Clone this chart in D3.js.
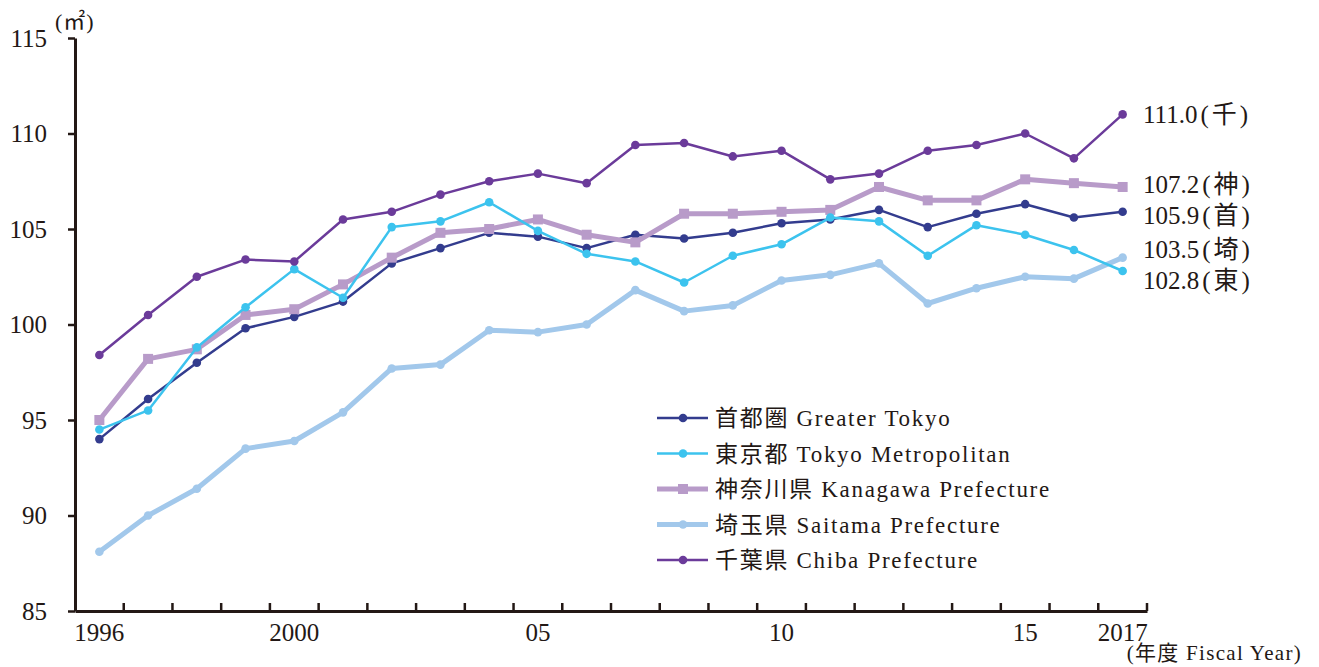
<!DOCTYPE html>
<html>
<head>
<meta charset="utf-8">
<script src="https://cdn.jsdelivr.net/npm/d3@7"></script>
<style>
  html, body { margin: 0; padding: 0; background: #fff; }
  svg text { font-family: "Liberation Serif", "Noto Sans CJK JP", serif; fill: #231815; }
</style>
</head>
<body>
<svg id="chart" width="1319" height="667"></svg>
<script>
// ---- data ----
const years = [1996,1997,1998,1999,2000,2001,2002,2003,2004,2005,2006,2007,2008,2009,2010,2011,2012,2013,2014,2015,2016,2017];
const tickYears  = [1996, 2000, 2005, 2010, 2015, 2017];
const tickLabels = ["1996", "2000", "05", "10", "15", "2017"];
const yTicks = [85, 90, 95, 100, 105, 110, 115];

const greaterTokyo = [94.0,96.1,98.0,99.8,100.4,101.2,103.2,104.0,104.8,104.6,104.0,104.7,104.5,104.8,105.3,105.5,106.0,105.1,105.8,106.3,105.6,105.9];
const tokyoMetro   = [94.5,95.5,98.8,100.9,102.9,101.4,105.1,105.4,106.4,104.9,103.7,103.3,102.2,103.6,104.2,105.6,105.4,103.6,105.2,104.7,103.9,102.8];
const kanagawa     = [95.0,98.2,98.7,100.5,100.8,102.1,103.5,104.8,105.0,105.5,104.7,104.3,105.8,105.8,105.9,106.0,107.2,106.5,106.5,107.6,107.4,107.2];
const saitama      = [88.1,90.0,91.4,93.5,93.9,95.4,97.7,97.9,99.7,99.6,100.0,101.8,100.7,101.0,102.3,102.6,103.2,101.1,101.9,102.5,102.4,103.5];
const chiba        = [98.4,100.5,102.5,103.4,103.3,105.5,105.9,106.8,107.5,107.9,107.4,109.4,109.5,108.8,109.1,107.6,107.9,109.1,109.4,110.0,108.7,111.0];

const seriesNames  = ["首都圏 Greater Tokyo", "東京都 Tokyo Metropolitan", "神奈川県 Kanagawa Prefecture", "埼玉県 Saitama Prefecture", "千葉県 Chiba Prefecture"];
const endTags      = ["首", "東", "神", "埼", "千"];
const seriesValues = [greaterTokyo, tokyoMetro, kanagawa, saitama, chiba];

// ---- styles ----
const colors  = ["#333c8e", "#3cc3ee", "#b89bc9", "#a2c8eb", "#6b3b9a"];
const widths  = [2.5, 2.5, 5, 5, 2.5];
const markers = ["circle", "circle", "square", "circle", "circle"];
const drawOrder = [3, 0, 2, 1, 4];

const svg = d3.select("#chart");
const mLeft = 75, mRight = 1147, mTop = 38, mBottom = 611;

const x = d3.scaleBand().domain(years).range([mLeft, mRight]).padding(0);
const y = d3.scaleLinear().domain([85, 115]).range([mBottom, mTop]);
const cx = d => x(d) + x.bandwidth() / 2;

const axisColor = "#231815";

// Y axis
const yAxis = svg.append("g")
  .attr("transform", `translate(${mLeft},0)`)
  .call(d3.axisLeft(y).tickValues(yTicks).tickSize(7).tickSizeOuter(0).tickPadding(21));
yAxis.select(".domain").attr("stroke", axisColor).attr("stroke-width", 3);
yAxis.selectAll(".tick line").attr("stroke", axisColor).attr("stroke-width", 2.5);
yAxis.selectAll(".tick text").attr("font-size", 25).attr("fill", axisColor)
  .style("font-family", "'Liberation Serif', serif");

// X axis
const xAxis = svg.append("g")
  .attr("transform", `translate(0,${mBottom})`)
  .call(d3.axisBottom(x).tickValues(tickYears).tickSize(0).tickSizeOuter(0).tickPadding(12)
        .tickFormat(d => tickLabels[tickYears.indexOf(d)]));
xAxis.select(".domain").attr("stroke", axisColor).attr("stroke-width", 3);
xAxis.selectAll(".tick text").attr("font-size", 25).attr("fill", axisColor)
  .style("font-family", "'Liberation Serif', serif");
// boundary ticks pointing up
const boundaries = years.slice(1).map(d => x(d)).concat([mRight]);
svg.append("g").selectAll("line").data(boundaries).join("line")
  .attr("x1", d => d).attr("x2", d => d)
  .attr("y1", mBottom).attr("y2", mBottom - 8)
  .attr("stroke", axisColor).attr("stroke-width", 2.5);

// units
svg.append("text").attr("x", 55).attr("y", 29).attr("font-size", 22)
  .attr("letter-spacing", 1).text("(㎡)");
svg.append("text").attr("x", 1302).attr("y", 660).attr("text-anchor", "end")
  .attr("font-size", 21).attr("letter-spacing", 1.3).text("(年度 Fiscal Year)");

// lines
const line = d3.line().x((d, i) => cx(years[i])).y(d => y(d));
drawOrder.forEach(k => {
  const g = svg.append("g");
  g.append("path").datum(seriesValues[k])
    .attr("fill", "none").attr("stroke", colors[k]).attr("stroke-width", widths[k])
    .attr("stroke-linejoin", "round").attr("d", line);
  if (markers[k] === "square") {
    g.selectAll("rect").data(seriesValues[k]).join("rect")
      .attr("x", (d, i) => cx(years[i]) - 5).attr("y", d => y(d) - 5)
      .attr("width", 10).attr("height", 10).attr("fill", colors[k]);
  } else {
    g.selectAll("circle").data(seriesValues[k]).join("circle")
      .attr("cx", (d, i) => cx(years[i])).attr("cy", d => y(d))
      .attr("r", 4.3).attr("fill", colors[k]);
  }
});

// end labels with simple collision relaxation
const last = years.length - 1;
const labels = seriesValues.map((v, k) => ({ k, v: v[last], y: y(v[last]) }))
  .sort((a, b) => a.y - b.y);
const gap = 31;
for (let iter = 0; iter < 50; iter++) {
  for (let i = 1; i < labels.length; i++) {
    const d = labels[i].y - labels[i - 1].y;
    if (d < gap) {
      const push = (gap - d) / 2;
      labels[i].y += push;
      labels[i - 1].y -= push;
    }
  }
}
const endText = svg.append("g").selectAll("text").data(labels).join("text")
  .attr("x", 1143).attr("y", d => d.y).attr("dy", "0.35em")
  .attr("font-size", 25);
endText.append("tspan").text(d => d3.format(".1f")(d.v));
endText.append("tspan").attr("dx", 3).attr("letter-spacing", 3)
  .text(d => "(" + endTags[d.k] + ")");

// legend
const legend = svg.append("g");
seriesNames.forEach((name, k) => {
  const ly = 418 + k * 35.5;
  const row = legend.append("g").attr("transform", `translate(657,${ly})`);
  row.append("line").attr("x1", 0).attr("x2", 51).attr("y1", 0).attr("y2", 0)
    .attr("stroke", colors[k]).attr("stroke-width", widths[k]);
  if (markers[k] === "square") {
    row.append("rect").attr("x", 26 - 5).attr("y", -5).attr("width", 10).attr("height", 10).attr("fill", colors[k]);
  } else {
    row.append("circle").attr("cx", 26).attr("cy", 0).attr("r", 4.3).attr("fill", colors[k]);
  }
  row.append("text").attr("x", 58).attr("y", 0).attr("dy", "0.36em")
    .attr("font-size", 23).attr("letter-spacing", 1.7).text(name);
});
</script>
</body>
</html>
